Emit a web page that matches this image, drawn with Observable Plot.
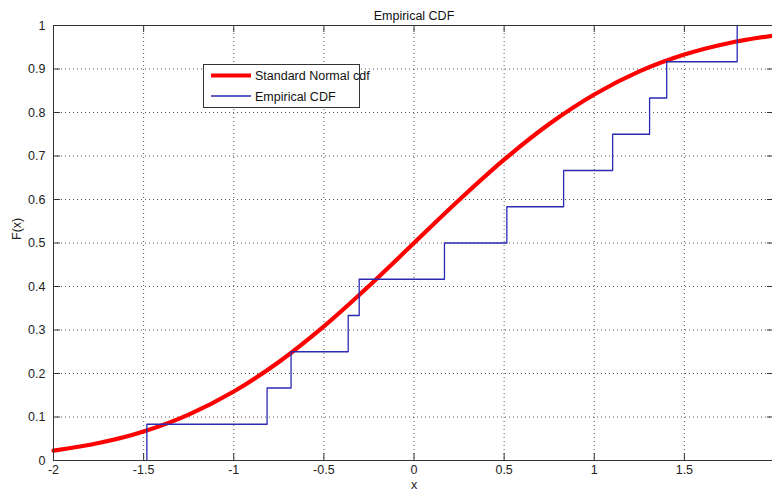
<!DOCTYPE html>
<html>
<head>
<meta charset="utf-8">
<script src="https://cdn.jsdelivr.net/npm/d3@7"></script>
<script src="https://cdn.jsdelivr.net/npm/@observablehq/plot@0.6"></script>
<style>
  html, body { margin: 0; padding: 0; background: #fff; }
  #chart svg { display: block; }
</style>
</head>
<body>
<div id="chart"></div>
<script>
// ---- data ----
const titleText = "Empirical CDF";
const xLabel = "x";
const yLabel = "F(x)";
const seriesNames = ["Standard Normal cdf", "Empirical CDF"];

// Standard normal cdf, read at x steps of 0.25
const normX = [-2, -1.75, -1.5, -1.25, -1, -0.75, -0.5, -0.25, 0, 0.25, 0.5, 0.75, 1, 1.25, 1.5, 1.75, 2];
const normF = [0.0228, 0.0401, 0.0668, 0.1056, 0.1587, 0.2266, 0.3085, 0.4013, 0.5, 0.5987, 0.6915, 0.7734, 0.8413, 0.8944, 0.9332, 0.9599, 0.9772];

// Empirical CDF step points (jump locations and levels)
const ecdfX = [-1.482, -1.482, -0.815, -0.682, -0.365, -0.304, 0.169, 0.515, 0.830, 1.102, 1.307, 1.402, 1.793];
const ecdfF = [0, 0.0833, 0.1667, 0.25, 0.3333, 0.4167, 0.5, 0.5833, 0.6667, 0.75, 0.8333, 0.9167, 1.0];

// axes
const xTicks = [-2, -1.5, -1, -0.5, 0, 0.5, 1, 1.5, 2];
const xTickLabels = [-2, -1.5, -1, -0.5, 0, 0.5, 1, 1.5];
const yTicks = [0, 0.1, 0.2, 0.3, 0.4, 0.5, 0.6, 0.7, 0.8, 0.9, 1];
const xGrid = [-1.5, -1, -0.5, 0, 0.5, 1, 1.5];
const yGrid = [0.1, 0.2, 0.3, 0.4, 0.5, 0.6, 0.7, 0.8, 0.9];

// ---- build ----
const normData = normX.map((x, i) => ({x, y: normF[i]}));
const ecdfData = ecdfX.map((x, i) => ({x, y: ecdfF[i]}));

const W = 772, H = 493;
const mL = 53, mR = -2, mT = 25, mB = 33;
const frameW = W - mL - mR, frameH = H - mT - mB;
const tickLen = 7;
const axisColor = "#333";
const font = "'Liberation Sans', Arial, Helvetica, sans-serif";

const chart = Plot.plot({
  width: W,
  height: H,
  marginLeft: mL,
  marginRight: mR,
  marginTop: mT,
  marginBottom: mB,
  style: {fontFamily: font, fontSize: "12.5px", color: "#222", background: "#fff", overflow: "hidden"},
  x: {domain: [-2, 2], axis: null, label: null},
  y: {domain: [0, 1], axis: null, label: null},
  marks: [
    // dotted grid
    Plot.ruleX(xGrid, {stroke: "#444", strokeWidth: 1, strokeDasharray: "1,3", strokeOpacity: 0.9}),
    Plot.ruleY(yGrid, {stroke: "#444", strokeWidth: 1, strokeDasharray: "1,3", strokeOpacity: 0.9}),
    // data
    Plot.line(normData, {x: "x", y: "y", stroke: "#ff0000", strokeWidth: 4.2, curve: "monotone-x"}),
    Plot.line(ecdfData, {x: "x", y: "y", stroke: "#2a2ab4", strokeWidth: 1.3, curve: "step-after"}),
    // frame
    Plot.frame({stroke: axisColor, strokeWidth: 1}),
    // inward ticks
    Plot.ruleX(xTicks, {stroke: axisColor, insetTop: frameH - tickLen}),
    Plot.ruleX(xTicks, {stroke: axisColor, insetBottom: frameH - tickLen}),
    Plot.ruleY(yTicks, {stroke: axisColor, insetRight: frameW - tickLen}),
    Plot.ruleY(yTicks, {stroke: axisColor, insetLeft: frameW - tickLen}),
    // tick labels
    Plot.axisX(xTickLabels, {anchor: "bottom", label: null, tickSize: 0, tickPadding: 5, tickFormat: d => String(d), fill: "#222", fontSize: 12.5}),
    Plot.axisY(yTicks, {anchor: "left", label: null, tickSize: 0, tickPadding: 8, tickFormat: d => String(d), fill: "#222", fontSize: 12.5}),
    // title & labels
    Plot.text([titleText], {frameAnchor: "top", dy: -14, fontSize: 12.5, fill: "#111"}),
    Plot.text([xLabel], {frameAnchor: "bottom", dy: 28.5, fontSize: 12.5, fill: "#222"}),
    Plot.text([yLabel], {frameAnchor: "left", dx: -37, dy: -3, rotate: -90, fontSize: 12.5, fill: "#222"})
  ]
});

document.getElementById("chart").appendChild(chart);

// ---- legend (inside the axes, top-left) ----
const svg = d3.select(chart);
const lg = svg.append("g").attr("font-family", font).attr("font-size", 12.5).attr("text-anchor", "start");
lg.append("rect").attr("x", 203.5).attr("y", 64.5).attr("width", 156).attr("height", 43)
  .attr("fill", "#fff").attr("stroke", axisColor).attr("stroke-width", 1);
const legendItems = [
  {name: seriesNames[0], color: "#ff0000", width: 4.2, y: 75.5},
  {name: seriesNames[1], color: "#2a2ab4", width: 1.3, y: 96}
];
legendItems.forEach(it => {
  lg.append("line").attr("x1", 211).attr("x2", 251).attr("y1", it.y).attr("y2", it.y)
    .attr("stroke", it.color).attr("stroke-width", it.width);
  lg.append("text").attr("x", 255).attr("y", it.y).attr("dy", "0.36em")
    .attr("text-anchor", "start").attr("fill", "#111").text(it.name);
});
</script>
</body>
</html>
